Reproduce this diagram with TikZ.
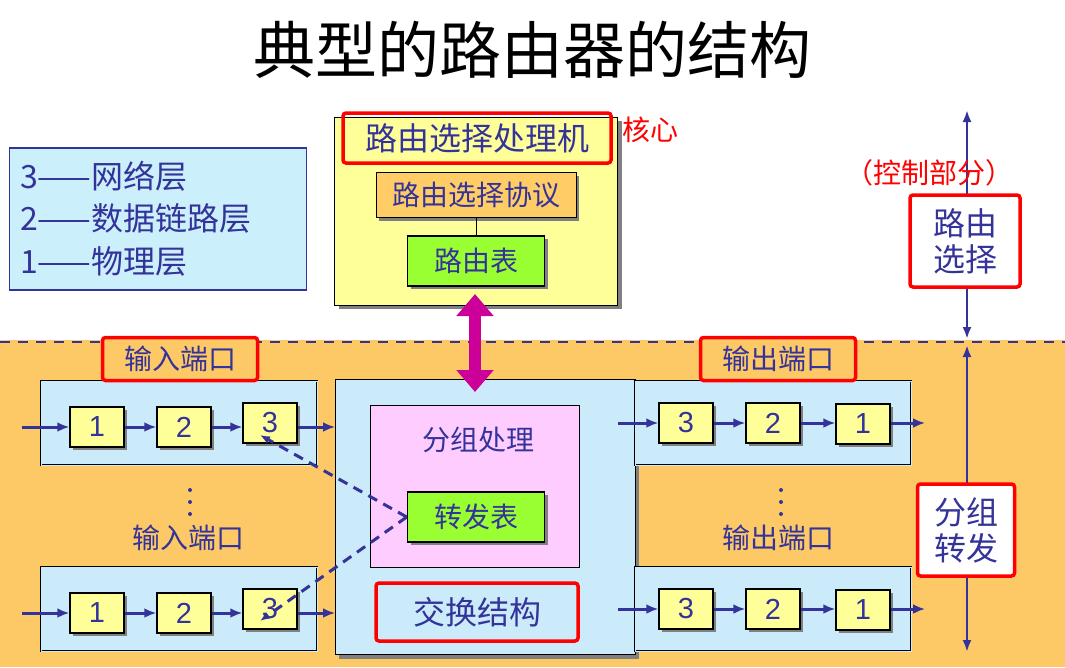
\documentclass[tikz,border=0pt]{standalone}
\usepackage{fontspec}
\setmainfont{Liberation Sans}
\newfontfamily\cjk{Noto Sans CJK SC}
\usetikzlibrary{positioning,shadows,arrows.meta}
\definecolor{txtblue}{HTML}{333399}
\definecolor{bgorange}{HTML}{FDC966}
\definecolor{portblue}{HTML}{CCEBFA}
\definecolor{boxyellow}{HTML}{FFFF99}
\definecolor{boxgreen}{HTML}{99FF33}
\definecolor{boxorange}{HTML}{FFCC66}
\definecolor{boxpink}{HTML}{FFCCFF}
\definecolor{arrowmag}{HTML}{CC0099}
\tikzset{
  lbl/.style={font=\cjk\fontsize{28}{30}\selectfont, text=txtblue, inner sep=0pt},
  cell/.style={draw=black, line width=1.5pt, fill=boxyellow, minimum width=54pt, minimum height=40pt,
    font=\fontsize{29}{31}\selectfont, text=txtblue, general shadow={shadow xshift=3pt, shadow yshift=-3pt, fill=gray}},
  tbl/.style={draw=black, line width=1.5pt, fill=boxgreen, minimum width=137pt, minimum height=50pt,
    lbl, general shadow={shadow xshift=3pt, shadow yshift=-3pt, fill=gray}},
  port/.style={draw=black, double=portblue, double distance=1pt, fill=portblue, minimum width=276pt, minimum height=84pt},
  hot/.style={draw=red, line width=3.5pt, rounded corners=3pt, inner sep=0pt},
  flow/.style={-{Latex[length=12pt,width=10pt]}, draw=txtblue, line width=3pt},
  hint/.style={-{Latex[length=10pt,width=8pt]}, draw=txtblue, line width=3pt, dash pattern=on 10pt off 7pt},
  dot/.style={circle, fill=txtblue, inner sep=0pt, minimum size=4pt},
}
\begin{document}
\begin{tikzpicture}[x=1pt,y=-1pt]
  \useasboundingbox (0,0) rectangle (1065,667);
  \fill[bgorange] (0,340) rectangle (1065,667);
  \draw[txtblue, line width=2pt, dash pattern=on 10pt off 8pt] (0,342) -- (1065,342);

  \node (title) at (532,50) {\cjk\fontsize{62}{64}\selectfont 典型的路由器的结构};

  % legend
  \node[draw=txtblue, line width=1.5pt, fill=cyan!20, minimum width=297pt, minimum height=142pt] (legend) at (158,219) {};
  \node[lbl, anchor=west, font=\cjk\fontsize{32}{34}\selectfont] (l3) at (20,176) {3——网络层};
  \node[lbl, anchor=west, font=\cjk\fontsize{32}{34}\selectfont] (l2) at (20,218) {2——数据链路层};
  \node[lbl, anchor=west, font=\cjk\fontsize{32}{34}\selectfont] (l1) at (20,261) {1——物理层};

  % routing processor
  \node[draw=black, fill=boxyellow, minimum width=283pt, minimum height=188pt,
    general shadow={shadow xshift=4pt, shadow yshift=-4pt, fill=gray}] (proc) at (476,211) {};
  \node[hot, minimum width=268pt, minimum height=50pt, lbl, font=\cjk\fontsize{32}{34}\selectfont] (ptitle) at (477,138) {路由选择处理机};
  \node[text=red, font=\cjk\fontsize{28}{30}\selectfont, anchor=west, inner sep=0pt] (core) at (622,130) {核心};
  \node[draw=black, fill=boxorange, minimum width=200pt, minimum height=45pt, lbl,
    general shadow={shadow xshift=3pt, shadow yshift=-3pt, fill=gray}] (proto) at (476,195) {路由选择协议};
  \node[tbl] (rtable) at (476,261) {路由表};
  \draw (proto) -- (rtable);

  % switch fabric
  \node[draw=black, fill=portblue, minimum width=300pt, minimum height=275pt,
    general shadow={shadow xshift=4pt, shadow yshift=-4pt, fill=gray}] (fabric) at (485,517) {};
  \node[draw=black, fill=boxpink, minimum width=209pt, minimum height=162pt] (proc2) at (475,486) {};
  \node[lbl] (plabel) at (478,440) {分组处理};
  \node[tbl] (ftable) at (476,517) {转发表};
  \node[hot, minimum width=202pt, minimum height=58pt, lbl, font=\cjk\fontsize{32}{34}\selectfont] (swlabel) at (477,612) {交换结构};

  \coordinate (link) at (475,330);
  \coordinate (linkdn) at (475,392);
  \coordinate (linkup) at (475,294);
  \draw[arrowmag, line width=12pt, -{Triangle[length=22pt, width=36pt]}] (link) -- (linkdn);
  \draw[arrowmag, line width=12pt, -{Triangle[length=22pt, width=36pt]}] (link) -- (linkup);

  % input ports
  \foreach \y/\n in {423/a, 609/b} {
    \node[port] (in\n) at (179,\y) {};
    \node[cell] (in\n1) at (97,\y+4) {1};
    \node[cell] (in\n2) at (184,\y+4) {2};
    \node[cell] (in\n3) at (270,\y) {3};
    \coordinate (src\n) at (22,\y+4);
    \coordinate (dst\n) at (335,\y+4);
    \draw[flow] (src\n) -- (in\n1);
    \draw[flow] (in\n1) -- (in\n2);
    \draw[flow] (in\n2) -- (in\n3.west |- in\n2);
    \draw[flow] (in\n3.east |- in\n2) -- (dst\n);
  }
  \node[hot, minimum width=155pt, minimum height=43pt, fill=bgorange, lbl] (inlabel) at (180,359) {输入端口};
  \node[lbl] (inlabel2) at (188,538) {输入端口};
  \foreach \d in {490,502,514} \node[dot] (indot\d) at (190,\d) {};
  \draw[hint] (ftable.west) -- ([xshift=-10pt,yshift=-12pt]ina3.center);
  \draw[hint] (ftable.west) -- ([xshift=-10pt,yshift=-12pt]inb3.center);

  % output ports
  \foreach \y/\n in {423/a, 609/b} {
    \node[port] (out\n) at (773,\y) {};
    \node[cell] (out\n3) at (686,\y) {3};
    \node[cell] (out\n2) at (773,\y) {2};
    \node[cell] (out\n1) at (863,\y+1) {1};
    \coordinate (osrc\n) at (618,\y);
    \coordinate (odst\n) at (925,\y);
    \draw[flow] (osrc\n) -- (out\n3);
    \draw[flow] (out\n3) -- (out\n2);
    \draw[flow] (out\n2) -- (out\n1.west |- out\n2);
    \draw[flow] (out\n1.east |- out\n2) -- (odst\n);
  }
  \node[hot, minimum width=155pt, minimum height=43pt, fill=bgorange, lbl] (outlabel) at (778,359) {输出端口};
  \node[lbl] (outlabel2) at (778,538) {输出端口};
  \foreach \d in {490,502,514} \node[dot] (outdot\d) at (781,\d) {};

  % right scale
  \coordinate (ctop) at (967,110);
  \coordinate (cmid) at (967,339);
  \coordinate (fmid) at (967,345);
  \coordinate (fbot) at (967,652);
  \draw[{Latex[length=12pt,width=9pt]}-{Latex[length=12pt,width=9pt]}, txtblue, line width=2.5pt] (ctop) -- (cmid);
  \draw[{Latex[length=12pt,width=9pt]}-{Latex[length=12pt,width=9pt]}, txtblue, line width=2.5pt] (fmid) -- (fbot);
  \node[text=red, font=\cjk\fontsize{28}{30}\selectfont, inner sep=0pt] (ctrl) at (929,173) {（控制部分）};
  \node[hot, fill=white, minimum width=110pt, minimum height=92pt, lbl, align=center,
    font=\cjk\fontsize{32}{36}\selectfont] (route) at (965,241) {路由\\选择};
  \node[hot, fill=white, minimum width=97pt, minimum height=92pt, lbl, align=center,
    font=\cjk\fontsize{32}{36}\selectfont] (fwd) at (966,530) {分组\\转发};
\end{tikzpicture}
\end{document}
